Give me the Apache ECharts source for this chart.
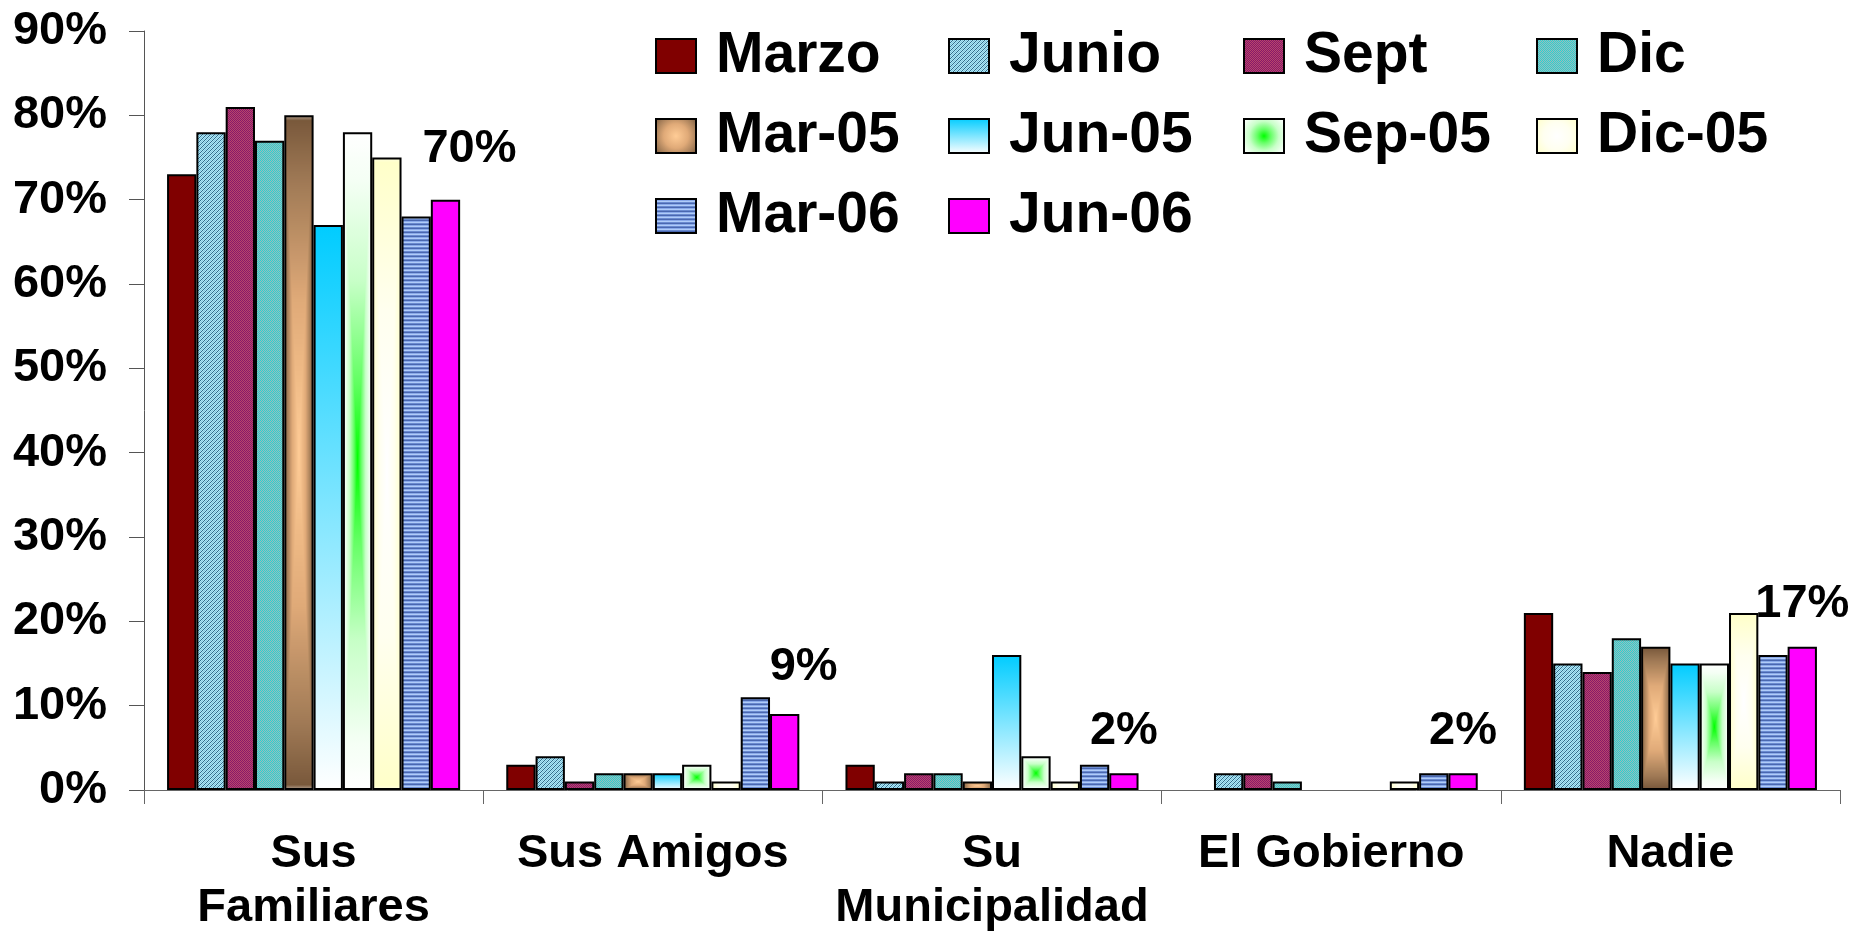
<!DOCTYPE html>
<html>
<head>
<meta charset="utf-8">
<script src="https://cdn.jsdelivr.net/npm/echarts@6/dist/echarts.min.js"></script>
<style>
html,body{margin:0;padding:0;background:#ffffff;}
#chart{width:1854px;height:935px;}
</style>
</head>
<body>
<div id="chart"></div>
<script>
// ---------- data ----------
const categories = ['Sus\nFamiliares', 'Sus Amigos', 'Su\nMunicipalidad', 'El Gobierno', 'Nadie'];
const seriesNames = ['Marzo', 'Junio', 'Sept', 'Dic', 'Mar-05', 'Jun-05', 'Sep-05', 'Dic-05', 'Mar-06', 'Jun-06'];
const marzo = [73, 3, 3, 0, 21];
const junio = [78, 4, 1, 2, 15];
const sept  = [81, 1, 2, 2, 14];
const dic   = [77, 2, 2, 1, 18];
const mar05 = [80, 2, 1, 0, 17];
const jun05 = [67, 2, 16, 0, 15];
const sep05 = [78, 3, 4, 0, 15];
const dic05 = [75, 1, 1, 1, 21];
const mar06 = [68, 11, 3, 2, 16];
const jun06 = [70, 9, 2, 2, 17];
const yTickValues = [0, 10, 20, 30, 40, 50, 60, 70, 80, 90];
const yTickSuffix = '%';

const allValues = [marzo, junio, sept, dic, mar05, jun05, sep05, dic05, mar06, jun06];

// ---------- styles ----------
const FONT = 'Arial, "Liberation Sans", sans-serif';
const FS = 47;
const LEGEND_FS = 57;

function tile(w, h, fn) {
  const c = document.createElement('canvas');
  c.width = w; c.height = h;
  const ctx = c.getContext('2d');
  for (let y = 0; y < h; y++) for (let x = 0; x < w; x++) {
    ctx.fillStyle = fn(x, y);
    ctx.fillRect(x, y, 1, 1);
  }
  return c;
}
const junioTile = tile(4, 4, (x, y) => ((x + y) % 4 === 0 ? '#2f6f8f' : ((x + y) % 4 === 2 ? '#7fc8e0' : '#b4e6f4')));
const septTile  = tile(2, 2, (x, y) => ((x + y) % 2 === 0 ? '#88186a' : '#b8466a'));
const dicTile   = tile(2, 2, (x, y) => ((x + y) % 2 === 0 ? '#2cd0d0' : '#9cbcbc'));
const mar06Tile = tile(1, 4, (x, y) => ['#4a68b0', '#8aaaea', '#b0ccf8', '#6a8ad0'][y]);

function hex(c) { return [parseInt(c.substr(1, 2), 16), parseInt(c.substr(3, 2), 16), parseInt(c.substr(5, 2), 16)]; }
function interp(stops, t) {
  for (let i = 1; i < stops.length; i++) {
    if (t <= stops[i][0]) {
      const a = stops[i - 1], b = stops[i];
      const f = (t - a[0]) / (b[0] - a[0] || 1);
      const ca = hex(a[1]), cb = hex(b[1]);
      return ca.map((v, k) => Math.round(v + (cb[k] - v) * f));
    }
  }
  return hex(stops[stops.length - 1][1]);
}
const GN = 64;
function rectGrad(stops) {
  const c = document.createElement('canvas');
  c.width = GN; c.height = GN;
  const ctx = c.getContext('2d');
  const img = ctx.createImageData(GN, GN);
  for (let y = 0; y < GN; y++) for (let x = 0; x < GN; x++) {
    const dx = Math.abs((x + 0.5) / GN * 2 - 1), dy = Math.abs((y + 0.5) / GN * 2 - 1);
    const col = interp(stops, Math.max(dx, dy));
    const i = (y * GN + x) * 4;
    img.data[i] = col[0]; img.data[i + 1] = col[1]; img.data[i + 2] = col[2]; img.data[i + 3] = 255;
  }
  ctx.putImageData(img, 0, 0);
  return c;
}
const mar05Stops = [[0, '#ffcc96'], [0.45, '#e0aa78'], [0.8, '#a07a56'], [1, '#765639']];
const sep05Stops = [[0, '#00ff00'], [0.25, '#66ff66'], [0.55, '#c8ffc8'], [0.85, '#f4fff4'], [1, '#ffffff']];
const dic05Stops = [[0, '#ffffff'], [0.5, '#fffff0'], [1, '#ffffc8']];

function radial(stops) {
  return { type: 'radial', x: 0.5, y: 0.5, r: 0.75, colorStops: stops.map(s => ({ offset: s[0], color: s[1] })) };
}

const seriesFill = [
  '#800000',
  { image: junioTile, repeat: 'repeat' },
  { image: septTile, repeat: 'repeat' },
  { image: dicTile, repeat: 'repeat' },
  radial(mar05Stops),
  { type: 'linear', x: 0, y: 0, x2: 0, y2: 1, colorStops: [{ offset: 0, color: '#00ccff' }, { offset: 1, color: '#ffffff' }] },
  radial(sep05Stops),
  radial(dic05Stops),
  { image: mar06Tile, repeat: 'repeat' },
  '#ff00ff'
];
const rectGradCanvases = { 4: rectGrad(mar05Stops), 6: rectGrad(sep05Stops), 7: rectGrad(dic05Stops) };

// label placement tweaks for the last series (style, not data)
const lastLabelOffset = { 0: [24, -8], 1: [19, -5] };

function buildData(si, layouts) {
  return allValues[si].map((v, j) => {
    const item = { value: v };
    const st = {};
    if (v === 0) st.borderWidth = 0;
    if (layouts && rectGradCanvases[si]) {
      const l = layouts[j];
      const x = Math.min(l.x, l.x + l.width), y = Math.min(l.y, l.y + l.height);
      const w = Math.max(Math.abs(l.width), 0.01), h = Math.max(Math.abs(l.height), 0.01);
      st.color = { image: rectGradCanvases[si], repeat: 'no-repeat', x: x, y: y, scaleX: w / GN, scaleY: h / GN };
    }
    item.itemStyle = st;
    if (si === 9 && lastLabelOffset[j]) item.label = { offset: lastLabelOffset[j] };
    return item;
  });
}

function buildSeries(layoutsBySeries) {
  return seriesNames.map((name, si) => ({
    name: name,
    type: 'bar',
    barGap: '0%',
    barCategoryGap: '13.6%',
    itemStyle: { color: seriesFill[si], borderColor: '#000000', borderWidth: 2 },
    label: si === 9 ? {
      show: true, position: 'top', distance: 19,
      formatter: p => p.value + '%',
      fontFamily: FONT, fontWeight: 'bold', fontSize: FS, lineHeight: FS, color: '#000000'
    } : { show: false },
    emphasis: { disabled: true },
    data: buildData(si, layoutsBySeries ? layoutsBySeries[si] : null)
  }));
}

const legendCols = [
  { left: 655, names: ['Marzo', 'Mar-05', 'Mar-06'] },
  { left: 948, names: ['Junio', 'Jun-05', 'Jun-06'] },
  { left: 1243, names: ['Sept', 'Sep-05'] },
  { left: 1536, names: ['Dic', 'Dic-05'] }
];

const option = {
  animation: false,
  backgroundColor: '#ffffff',
  grid: { left: 144, right: 14, top: 31, bottom: 140, containLabel: false },
  legend: legendCols.map(c => ({
    orient: 'vertical',
    left: c.left,
    top: 26,
    padding: 0,
    itemWidth: 40,
    itemHeight: 34,
    itemGap: 20,
    icon: 'rect',
    selectedMode: false,
    data: c.names,
    itemStyle: { borderColor: '#000000', borderWidth: 2 },
    textStyle: { fontFamily: FONT, fontWeight: 'bold', fontSize: LEGEND_FS, lineHeight: 60, color: '#000000', padding: [0, 0, 0, 15] }
  })),
  xAxis: {
    type: 'category',
    data: categories,
    axisLine: { show: true, lineStyle: { color: '#666666', width: 1 } },
    axisTick: { show: true, length: 14, interval: 0, alignWithLabel: false, lineStyle: { color: '#666666' } },
    axisLabel: { interval: 0, margin: 37, fontFamily: FONT, fontWeight: 'bold', fontSize: FS, lineHeight: 54, color: '#000000', align: 'center' }
  },
  yAxis: {
    type: 'value',
    min: yTickValues[0],
    max: yTickValues[yTickValues.length - 1],
    interval: yTickValues[1] - yTickValues[0],
    axisLine: { show: true, lineStyle: { color: '#555555', width: 1 } },
    axisTick: { show: true, length: 15, lineStyle: { color: '#555555' } },
    splitLine: { show: false },
    axisLabel: { margin: 37, formatter: v => v + yTickSuffix, fontFamily: FONT, fontWeight: 'bold', fontSize: FS, color: '#000000' }
  },
  series: buildSeries(null)
};

const chart = echarts.init(document.getElementById('chart'), null, { renderer: 'canvas' });
chart.setOption(option);

// align the centre-out gradient fills to each bar laid out by the library
try {
  const model = chart.getModel();
  const layouts = seriesNames.map((n, si) => {
    const data = model.getSeriesByIndex(si).getData();
    return allValues[si].map((v, j) => data.getItemLayout(j));
  });
  chart.setOption({ series: buildSeries(layouts) });
} catch (e) {
  console.error(e);
}
</script>
</body>
</html>
